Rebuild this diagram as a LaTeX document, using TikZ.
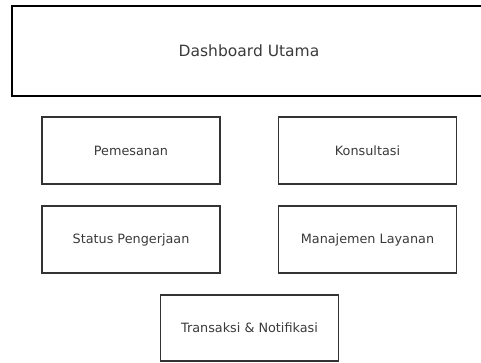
\documentclass[tikz,border=0pt]{standalone}
\usepackage{fontspec}
\setmainfont{DejaVu Sans}
\definecolor{txtgray}{HTML}{3A3A3A}
\definecolor{linegray}{HTML}{333333}
\begin{document}
\begin{tikzpicture}[x=1pt,y=-1pt,
  mainbox/.style={draw=black, line width=2pt, minimum width=474pt, minimum height=90pt,
    text=txtgray, font=\fontsize{15.5}{18}\selectfont, inner sep=0pt},
  menubox/.style={draw=linegray, line width=1.2pt, minimum width=178pt, minimum height=67pt,
    text=txtgray, font=\fontsize{12.8}{15}\selectfont, inner sep=0pt}]
  \useasboundingbox (0,0) rectangle (481,362);
  \node[mainbox] (dash) at (249,51) {Dashboard Utama};
  \node[menubox] (pesan) at (131,150.5) {Pemesanan};
  \node[menubox] (konsul) at (367.5,150.5) {Konsultasi};
  \node[menubox] (status) at (131,239.5) {Status Pengerjaan};
  \node[menubox] (layanan) at (367.5,239.5) {Manajemen Layanan};
  \node[menubox, minimum height=66pt] (transaksi) at (249.5,328) {Transaksi \& Notifikasi};
\end{tikzpicture}
\end{document}
